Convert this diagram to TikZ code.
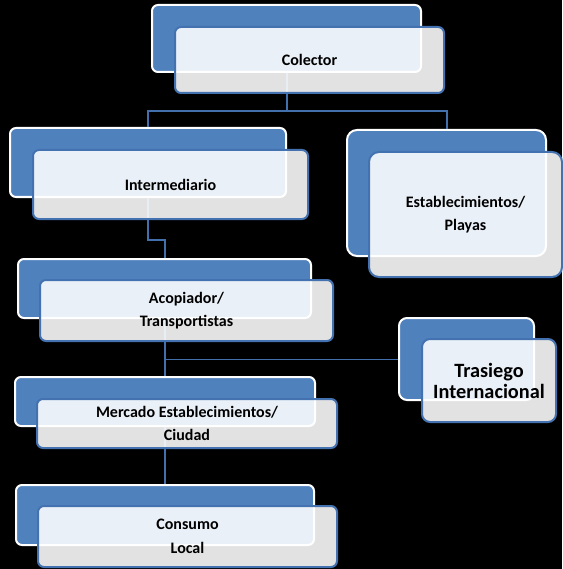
\documentclass[tikz,border=0pt]{standalone}
\usepackage{fontspec}
\setmainfont{Carlito}[BoldFont={Carlito Bold}]
\newfontfamily\boxfont{Carlito Bold}
\definecolor{backblue}{RGB}{79,129,189}
\definecolor{edgeblue}{RGB}{68,114,176}
\definecolor{lineblue}{RGB}{66,112,172}
\tikzset{
  backbox/.style={draw=white, line width=2pt, fill=backblue, rounded corners=6pt, inner sep=0pt},
  frontbox/.style={draw=edgeblue, line width=2pt, fill=white, fill opacity=0.885, text opacity=1,
    rounded corners=6pt, inner sep=0pt, align=center, text=black,
    font=\boxfont\fontsize{16}{23.5}\selectfont},
  conn/.style={draw=lineblue, line width=2pt},
  thinconn/.style={draw=lineblue, line width=1pt}
}
\begin{document}
\begin{tikzpicture}[x=1pt,y=-1pt]
\fill[black] (0,0) rectangle (562,569);
\useasboundingbox (0,0) rectangle (562,569);
% back boxes
\node[backbox, minimum width=269pt, minimum height=67pt] (colB) at (286.5,38.5) {};
\node[backbox, minimum width=276pt, minimum height=69pt] (intB) at (148,162.5) {};
\node[backbox, minimum width=199pt, minimum height=126pt, rounded corners=10pt] (estB) at (446.5,193) {};
\node[backbox, minimum width=293pt, minimum height=59pt] (acoB) at (164.5,288.5) {};
\node[backbox, minimum width=135pt, minimum height=82pt, rounded corners=8pt] (trasB) at (466.5,359) {};
\node[backbox, minimum width=300pt, minimum height=49pt] (merB) at (165,401.5) {};
\node[backbox, minimum width=298pt, minimum height=60pt] (conB) at (165,515) {};
% connectors
\coordinate (cj) at (286.5,111);
\coordinate (ij) at (148,240);
\draw[conn] (colB.south) -- (cj) -| (intB.north);
\draw[conn] (cj) -| (estB.north);
\draw[conn] (intB.south) -- (ij) -| (acoB.north);
\draw[conn] (acoB.south) -- (acoB.south |- merB.north);
\draw[conn] (merB.south) -- (merB.south |- conB.north);
\draw[thinconn] (acoB.south |- trasB.west) -- (trasB.west);
% front boxes
\node[frontbox, minimum width=269pt, minimum height=66pt] (colF) at (309.5,60) {Colector};
\node[frontbox, minimum width=275pt, minimum height=69pt] (intF) at (170.5,184.5) {Intermediario};
\node[frontbox, minimum width=193pt, minimum height=125pt, rounded corners=10pt] (estF) at (465.5,214.5) {Establecimientos/\\Playas};
\node[frontbox, minimum width=293pt, minimum height=61pt] (acoF) at (186.5,310.5) {Acopiador/\\Transportistas};
\node[frontbox, minimum width=134pt, minimum height=83pt, rounded corners=8pt, font=\boxfont\fontsize{20.3}{21}\selectfont] (trasF) at (489,380.5) {Trasiego\\Internacional};
\node[frontbox, minimum width=300pt, minimum height=49pt] (merF) at (187,423.5) {Mercado Establecimientos/\\Ciudad};
\node[frontbox, minimum width=299pt, minimum height=61pt] (conF) at (187.5,536.5) {Consumo\\Local};
\end{tikzpicture}
\end{document}
